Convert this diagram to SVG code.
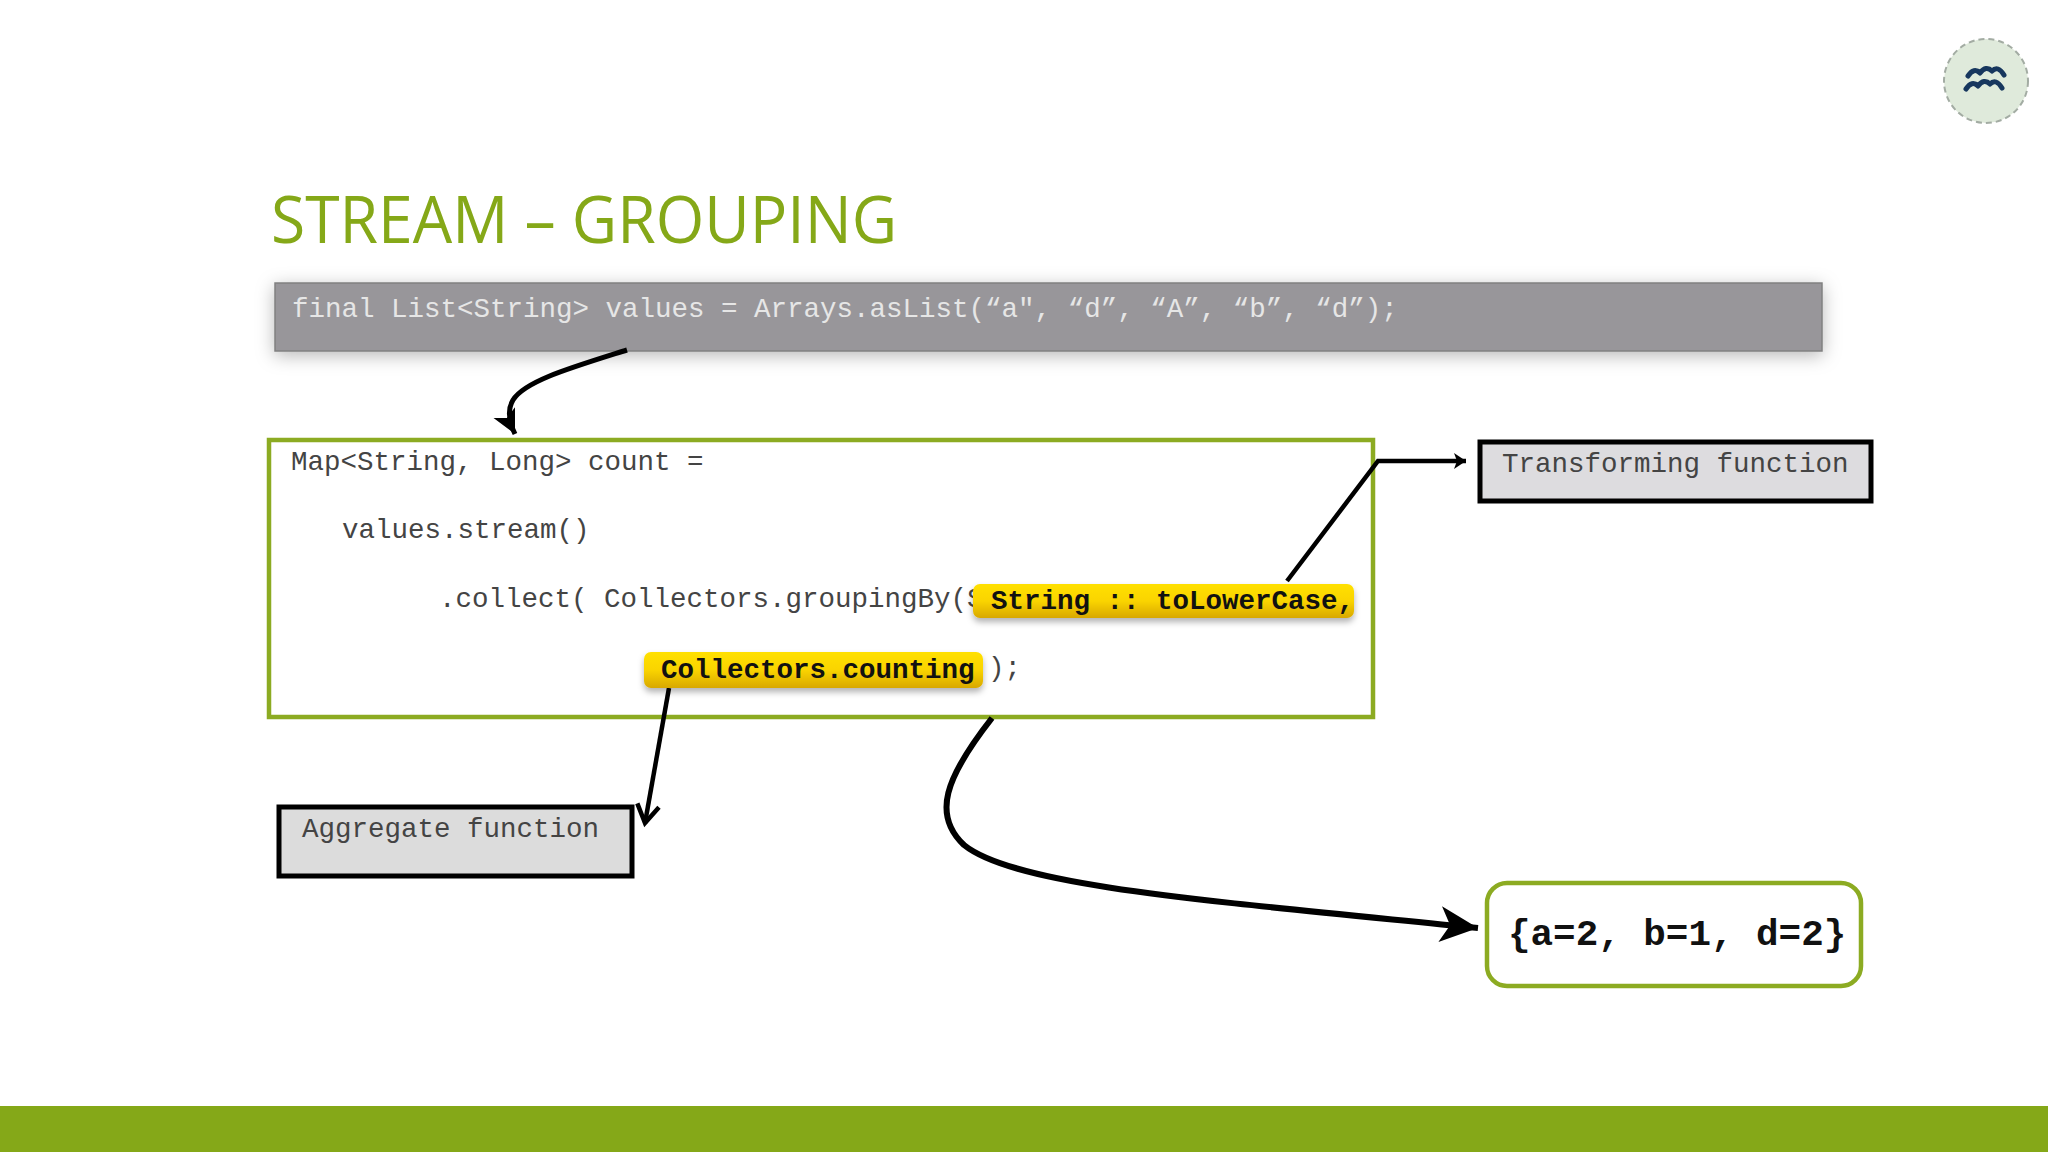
<svg xmlns="http://www.w3.org/2000/svg" width="2048" height="1152" viewBox="0 0 2048 1152">
<style>
.code{font-family:"Liberation Mono","Courier New",monospace;font-size:27.5px;fill:#444}
.bold{font-family:"Liberation Mono","Courier New",monospace;font-size:27.5px;font-weight:700;fill:#111}
.conn{fill:none;stroke:#000;stroke-linecap:butt;stroke-linejoin:miter}
.fnbox{stroke:#000;stroke-width:5}
.yellow{fill:url(#gold);filter:url(#soft)}
</style>
<defs>
<linearGradient id="gold" x1="0" y1="0" x2="0" y2="1"><stop offset="0" stop-color="#ffe000"/><stop offset="0.5" stop-color="#fad400"/><stop offset="1" stop-color="#d8a800"/></linearGradient>
<filter id="soft" x="-10%" y="-30%" width="120%" height="170%"><feDropShadow dx="0" dy="4" stdDeviation="3" flood-color="#000" flood-opacity="0.3"/></filter>
<filter id="barshadow" x="-3%" y="-40%" width="106%" height="190%"><feDropShadow dx="0" dy="4" stdDeviation="9" flood-color="#000" flood-opacity="0.28"/></filter>
<marker id="solid" markerUnits="userSpaceOnUse" markerWidth="28" markerHeight="28" refX="24" refY="14" orient="auto"><path d="M0 2 L24 14 L0 26 L6 14 Z" fill="#000"/></marker>
<marker id="small" markerUnits="userSpaceOnUse" markerWidth="20" markerHeight="20" refX="14" refY="10" orient="auto"><path d="M2 2 L14 10 L2 18 L5 10 Z" fill="#000"/></marker>
<marker id="open" markerUnits="userSpaceOnUse" markerWidth="28" markerHeight="28" refX="22" refY="14" orient="auto"><path d="M4 3 L22 14 L4 25" fill="none" stroke="#000" stroke-width="4.5"/></marker>
<marker id="big" markerUnits="userSpaceOnUse" markerWidth="42" markerHeight="42" refX="38" refY="21" orient="auto"><path d="M0 3 L38 21 L0 39 L10 21 Z" fill="#000"/></marker>
</defs>
<rect width="2048" height="1152" fill="#fff"/>
<rect x="0" y="1106" width="2048" height="46" fill="#85a818"/>
<g id="logo">
<circle cx="1986" cy="81" r="42" fill="#dfeadb" stroke="#a3aca3" stroke-width="2" stroke-dasharray="6 4"/>
<path d="M1968 76 q6 -9 12 -3 M1980 73 q6 -8 12 -2 M1992 71 q6 -6 12 4 M1966 89 q6 -9 12 -3 M1978 86 q6 -8 12 -2 M1990 84 q6 -6 12 4" fill="none" stroke="#17375e" stroke-width="5" stroke-linecap="round"/>
</g>
<text id="title" x="271" y="243" font-family="'Open Sans','Noto Sans',sans-serif" font-size="66" font-weight="500" fill="#85a818" textLength="626" lengthAdjust="spacingAndGlyphs">STREAM – GROUPING</text>
<g id="values-bar">
<rect x="275" y="283" width="1547" height="68" fill="#98969a" stroke="#808080" stroke-width="1.5" filter="url(#barshadow)"/>
<text class="code" x="292" y="317" style="fill:#e6e6e6">final List&lt;String&gt; values = Arrays.asList(“a", “d”, “A”, “b”, “d”);</text>
</g>
<g id="code-box">
<rect x="269" y="440" width="1104" height="277" fill="#fff" stroke="#8cab22" stroke-width="4.5"/>
<text class="code" x="291" y="470">Map&lt;String, Long&gt; count =</text>
<text class="code" x="342" y="538">values.stream()</text>
<text class="code" x="439" y="607">.collect( Collectors.groupingBy(S</text>
<text class="code" x="988" y="676">);</text>
</g>
<g id="connectors">
<path class="conn" stroke-width="5" d="M627 350 C 570 368 525 381 513 400 C 506 412 510 424 515 434" marker-end="url(#solid)"/>
<path class="conn" stroke-width="4.5" d="M1287 581 L1378 461 L1466 461" marker-end="url(#small)"/>
<path class="conn" stroke-width="4.5" d="M669 688 L645 823" marker-end="url(#open)"/>
<path class="conn" stroke-width="6" d="M992 718 C 945 778 932 815 964 845 C 1015 886 1200 900 1478 928" marker-end="url(#big)"/>
</g>
<g id="to-lower-case">
<rect class="yellow" x="973" y="584" width="381" height="34" rx="7"/>
<text class="bold" x="991" y="609">String :: toLowerCase,</text>
</g>
<g id="counting">
<rect class="yellow" x="644" y="652" width="339" height="36" rx="7"/>
<text class="bold" x="661" y="678">Collectors.counting</text>
</g>
<g id="transforming">
<rect class="fnbox" x="1480" y="442" width="391" height="59" fill="#dddcdf"/>
<text class="code" x="1502" y="472">Transforming function</text>
</g>
<g id="aggregate">
<rect class="fnbox" x="279" y="807" width="353" height="69" fill="#dcdcdc"/>
<text class="code" x="302" y="837">Aggregate function</text>
</g>
<g id="result">
<rect x="1487" y="883" width="374" height="103" rx="20" fill="#fff" stroke="#8cab22" stroke-width="4.5"/>
<text class="bold" x="1508" y="945" style="font-size:37.6px">{a=2, b=1, d=2}</text>
</g>
</svg>
